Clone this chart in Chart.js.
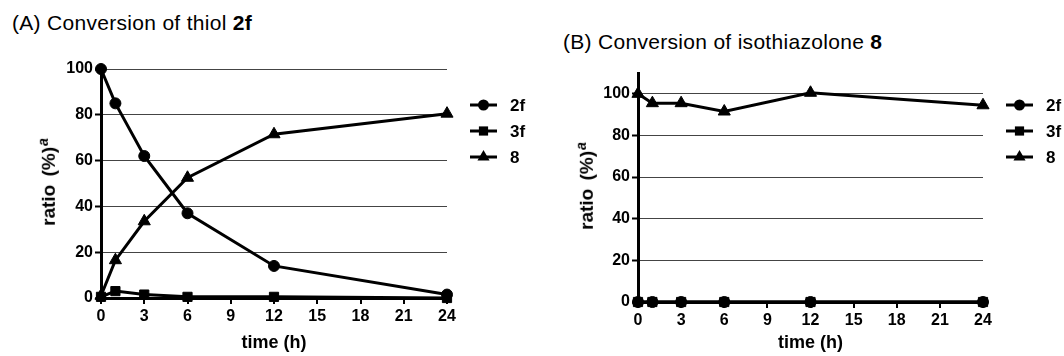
<!DOCTYPE html>
<html>
<head>
<meta charset="utf-8">
<script src="https://cdn.jsdelivr.net/npm/chart.js@4.4.0/dist/chart.umd.min.js"></script>
<style>
    body { margin: 0; background: #fff; font-family: "Liberation Sans", Arial, sans-serif; }
    #wrap { position: relative; width: 1064px; height: 356px; overflow: hidden; }
    canvas { position: absolute; top: 0; }
    .ttl { position: absolute; font-size: 21px; line-height: 22px; white-space: nowrap; color: #000; letter-spacing: 0.3px; }
    .ylab { position: absolute; font-weight: bold; font-size: 19px; line-height: 19px; white-space: nowrap;
            transform: translate(-50%, -50%) rotate(-90deg); color: #000; word-spacing: 3px; }
    .ylab sup { font-style: italic; font-size: 14px; margin-left: 1px; }
</style>
</head>
<body>
<div id="wrap">
    <div class="ttl" style="left:12px; top:12px;">(A) Conversion of thiol <b>2f</b></div>
    <div class="ttl" style="left:563px; top:31px;">(B) Conversion of isothiazolone <b>8</b></div>
    <canvas id="chartA" width="540" height="356" style="left:0;"></canvas>
    <canvas id="chartB" width="524" height="356" style="left:540px;"></canvas>
    <div class="ylab" style="left:46px; top:182px;">ratio (%)<sup>a</sup></div>
    <div class="ylab" style="left:584px; top:186px;">ratio (%)<sup>a</sup></div>
</div>
<script>
// sampling times (h)
const hours = [0, 1, 3, 6, 12, 24];
const seriesNames = ['2f', '3f', '8'];

// (A) thiol 2f
const a2f = [100, 85, 62, 37, 14, 1.5];
const a3f = [0.5, 3, 1.5, 0.5, 0.5, 0];
const a8 = [1, 16.5, 33.5, 52.5, 71.5, 80.5];

// (B) isothiazolone 8
const b2f = [0, 0, 0, 0, 0, 0];
const b3f = [0, 0, 0, 0, 0, 0];
const b8 = [100, 95.5, 95.5, 91.5, 100.5, 94.5];

const markerStyles = ['circle', 'rect', 'triangle'];
const markerRadius = [5.5, 6.5, 7];

const tickFont = { family: '"Liberation Sans", Arial, sans-serif', size: 16, weight: 'bold' };
const axisFont = { family: '"Liberation Sans", Arial, sans-serif', size: 18, weight: 'bold' };

function drawMarker(ctx, style, r, x, y) {
    ctx.beginPath();
    if (style === 'circle') {
        ctx.arc(x, y, r, 0, Math.PI * 2);
    } else if (style === 'rect') {
        const s = r * Math.SQRT1_2;
        ctx.rect(x - s, y - s, 2 * s, 2 * s);
    } else {
        ctx.moveTo(x, y - r);
        ctx.lineTo(x + r * Math.cos(Math.PI / 6), y + r / 2);
        ctx.lineTo(x - r * Math.cos(Math.PI / 6), y + r / 2);
        ctx.closePath();
    }
    ctx.fill();
}

// legend: short line with the marker on it, label to the right
const lineLegend = {
    id: 'lineLegend',
    afterDraw(chart) {
        const ctx = chart.ctx;
        const area = chart.chartArea;
        const rows = chart.options.plugins.lineLegend.rows;
        chart.data.datasets.forEach((ds, i) => {
            const y = rows[i];
            const x0 = area.right + 23, x1 = area.right + 50;
            ctx.save();
            ctx.strokeStyle = '#000';
            ctx.fillStyle = '#000';
            ctx.lineWidth = 3;
            ctx.beginPath();
            ctx.moveTo(x0, y);
            ctx.lineTo(x1, y);
            ctx.stroke();
            drawMarker(ctx, ds.pointStyle, ds.pointRadius, (x0 + x1) / 2, y);
            ctx.font = 'bold 17px "Liberation Sans", Arial, sans-serif';
            ctx.textBaseline = 'middle';
            ctx.fillText(ds.label, area.right + 63, y + 1);
            ctx.restore();
        });
    }
};

function buildDatasets(series) {
    return series.map((vals, i) => ({
        label: seriesNames[i],
        data: hours.map((h, k) => ({ x: h, y: vals[k] })),
        borderColor: '#000',
        backgroundColor: '#000',
        borderWidth: 3,
        tension: 0,
        pointStyle: markerStyles[i],
        pointRadius: markerRadius[i],
        pointBorderWidth: 1,
        clip: false
    }));
}

function makeChart(id, series, yMax, area, rows) {
    const canvas = document.getElementById(id);
    return new Chart(canvas, {
        type: 'line',
        data: { datasets: buildDatasets(series) },
        plugins: [lineLegend],
        options: {
            responsive: false,
            animation: false,
            events: [],
            layout: { padding: { left: 0, top: area.top, right: canvas.width - area.right, bottom: 0 } },
            plugins: {
                legend: { display: false },
                tooltip: { enabled: false },
                lineLegend: { rows: rows }
            },
            scales: {
                x: {
                    type: 'linear',
                    min: 0,
                    max: 24,
                    ticks: { stepSize: 3, color: '#000', font: tickFont, padding: 3 },
                    grid: { drawOnChartArea: false, drawTicks: true, tickLength: 6, color: '#000', lineWidth: 2 },
                    border: { color: '#000', width: 3 },
                    title: { display: true, text: 'time (h)', color: '#000', font: axisFont, padding: { top: 0, bottom: 2 } },
                    afterFit: s => { s.height = canvas.height - area.bottom; }
                },
                y: {
                    min: 0,
                    max: yMax,
                    ticks: { stepSize: 20, includeBounds: false, color: '#000', font: tickFont, padding: 2 },
                    grid: { color: '#444', lineWidth: 1, tickColor: '#000', tickWidth: 2, tickLength: 6 },
                    border: { color: '#000', width: 3 },
                    afterFit: s => { s.width = area.left; }
                }
            }
        }
    });
}

makeChart('chartA', [a2f, a3f, a8], 100, { left: 101, right: 447, top: 69, bottom: 298 }, [105, 131, 157]);
makeChart('chartB', [b2f, b3f, b8], 110, { left: 98, right: 443, top: 73, bottom: 302 }, [105, 131, 157]);
</script>
</body>
</html>
